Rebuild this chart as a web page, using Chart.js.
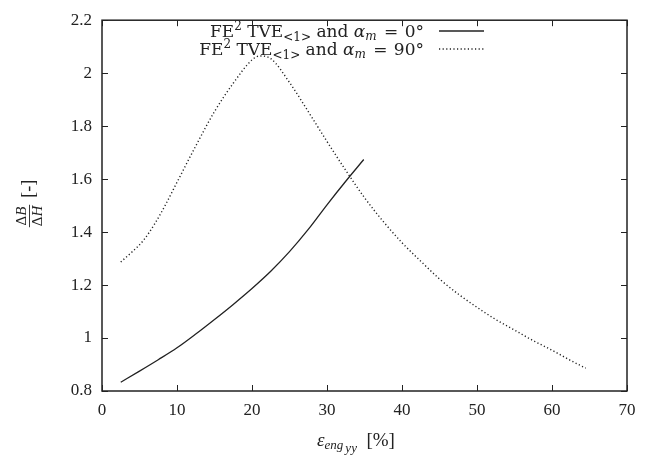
<!DOCTYPE html>
<html>
<head>
<meta charset="utf-8">
<script src="https://cdn.jsdelivr.net/npm/chart.js@4/dist/chart.umd.min.js"></script>
<style>
html,body{margin:0;padding:0;background:#fff;}
#wrap{width:646px;height:457px;}
</style>
</head>
<body>
<div id="wrap"><canvas id="c" width="646" height="457"></canvas></div>
<script>
// ---- data ----
const xSolid = [2.5, 5, 7.5, 10, 12.5, 15, 17.5, 20, 22.5, 25, 27.5, 30, 32.5, 34.9];
const ySolid = [0.833, 0.875, 0.918, 0.963, 1.015, 1.07, 1.127, 1.187, 1.252, 1.326, 1.41, 1.503, 1.592, 1.674];

const xDotted = [2.5, 4, 5.5, 7, 8.5, 10, 12.5, 15, 17.5, 20, 21, 22.5, 25, 27.5, 30, 32.5, 35, 37.5, 40, 42.5, 45, 47.5, 50, 52.5, 55, 57.5, 60, 62.5, 64.5];
const yDotted = [1.287, 1.325, 1.368, 1.43, 1.505, 1.588, 1.725, 1.855, 1.962, 2.05, 2.065, 2.055, 1.965, 1.855, 1.742, 1.633, 1.53, 1.44, 1.36, 1.29, 1.223, 1.166, 1.116, 1.07, 1.03, 0.99, 0.954, 0.915, 0.886];

const xTicks = [0, 10, 20, 30, 40, 50, 60, 70];
const yTicks = [0.8, 1, 1.2, 1.4, 1.6, 1.8, 2, 2.2];
const yTickLabels = ['0.8', '1', '1.2', '1.4', '1.6', '1.8', '2', '2.2'];

const seriesNames = ['0°', '90°'];

const SERIF = '"Liberation Serif", "DejaVu Serif", serif';
const LSERIF = '"DejaVu Serif", "Liberation Serif", serif';
const INK = '#222';

function pts(xs, ys) { return xs.map((x, i) => ({x: x, y: ys[i]})); }

function fontOf(s) { return (s.style || 'normal') + ' ' + s.size + 'px ' + (s.fam || SERIF); }
function richWidth(ctx, segs) {
  let w = 0;
  segs.forEach(s => { ctx.font = fontOf(s); w += ctx.measureText(s.t).width + (s.gap || 0); });
  return w;
}
function drawRich(ctx, segs, x, y) {
  let cx = x;
  segs.forEach(s => {
    ctx.font = fontOf(s);
    ctx.fillText(s.t, cx, y + (s.dy || 0));
    cx += ctx.measureText(s.t).width + (s.gap || 0);
  });
}
function legendSegs(angle) {
  const F = LSERIF;
  return [
    {t: 'FE', size: 17, fam: F}, {t: '2', size: 12, dy: -7, fam: F}, {t: ' TVE', size: 17, fam: F},
    {t: '<1>', size: 12, dy: 4, fam: F}, {t: ' and ', size: 17, fam: F},
    {t: 'α', size: 17, style: 'italic', fam: F}, {t: 'm', size: 12, style: 'italic', dy: 3, fam: F, gap: 2},
    {t: ' = ', size: 17, fam: F, gap: 1}, {t: angle, size: 17, fam: F}
  ];
}

const decor = {
  id: 'decor',
  afterDatasetsDraw(chart) {
    const ctx = chart.ctx;
    const a = chart.chartArea;
    const xs = chart.scales.x, ys = chart.scales.y;
    ctx.save();
    // frame
    ctx.strokeStyle = INK;
    ctx.lineWidth = 1.5;
    ctx.strokeRect(a.left, a.top, a.right - a.left, a.bottom - a.top);
    // inward ticks on all sides
    ctx.lineWidth = 1;
    const L = 6;
    xTicks.forEach(v => {
      const p = Math.round(xs.getPixelForValue(v)) + 0.5;
      ctx.beginPath();
      ctx.moveTo(p, a.bottom); ctx.lineTo(p, a.bottom - L);
      ctx.moveTo(p, a.top); ctx.lineTo(p, a.top + L);
      ctx.stroke();
    });
    yTicks.forEach(v => {
      const p = Math.round(ys.getPixelForValue(v)) + 0.5;
      ctx.beginPath();
      ctx.moveTo(a.left, p); ctx.lineTo(a.left + L, p);
      ctx.moveTo(a.right, p); ctx.lineTo(a.right - L, p);
      ctx.stroke();
    });

    // legend
    ctx.fillStyle = INK;
    ctx.textBaseline = 'alphabetic';
    const textRight = 424;
    const rows = [{y: 37, dash: []}, {y: 55, dash: [1.2, 2.4]}];
    rows.forEach((r, i) => {
      const segs = legendSegs(seriesNames[i]);
      const w = richWidth(ctx, segs);
      drawRich(ctx, segs, textRight - w, r.y);
      ctx.beginPath();
      ctx.setLineDash(r.dash);
      ctx.lineWidth = i === 0 ? 1.3 : 1.4;
      ctx.strokeStyle = INK;
      ctx.moveTo(439, r.y - 6);
      ctx.lineTo(484, r.y - 6);
      ctx.stroke();
      ctx.setLineDash([]);
    });

    // x axis title: ε_{eng yy} [%]
    const xt = [
      {t: 'ε', size: 19, style: 'italic'},
      {t: 'eng', size: 13, style: 'italic', dy: 3, gap: 2},
      {t: 'yy', size: 13, style: 'italic', dy: 6},
      {t: '  [%]', size: 19}
    ];
    const xw = richWidth(ctx, xt);
    drawRich(ctx, xt, 356 - xw / 2, 446);

    // y axis title: ΔB/ΔH [-] rotated
    ctx.translate(29, 216);
    ctx.rotate(-Math.PI / 2);
    const num = [{t: 'Δ', size: 15}, {t: 'B', size: 15, style: 'italic'}];
    const den = [{t: 'Δ', size: 15}, {t: 'H', size: 15, style: 'italic'}];
    const nw = richWidth(ctx, num), dw = richWidth(ctx, den);
    const fw = Math.max(nw, dw) + 2;
    drawRich(ctx, num, -nw / 2, -3);
    drawRich(ctx, den, -dw / 2, 13);
    ctx.beginPath();
    ctx.lineWidth = 0.9;
    ctx.moveTo(-fw / 2, 0.5); ctx.lineTo(fw / 2, 0.5);
    ctx.stroke();
    ctx.font = '18px ' + SERIF;
    ctx.fillText('[-]', fw / 2 + 7, 5);
    ctx.restore();
  }
};

new Chart(document.getElementById('c'), {
  type: 'line',
  data: {
    datasets: [
      {
        label: seriesNames[0],
        data: pts(xSolid, ySolid),
        borderColor: INK,
        borderWidth: 1.3,
        pointRadius: 0,
        fill: false,
        cubicInterpolationMode: 'monotone'
      },
      {
        label: seriesNames[1],
        data: pts(xDotted, yDotted),
        borderColor: INK,
        borderWidth: 1.4,
        borderDash: [1.2, 2.4],
        pointRadius: 0,
        fill: false,
        cubicInterpolationMode: 'monotone'
      }
    ]
  },
  options: {
    responsive: false,
    animation: false,
    devicePixelRatio: 1,
    layout: {padding: {left: 0, right: 19, top: 16, bottom: 0}},
    plugins: {legend: {display: false}, tooltip: {enabled: false}},
    scales: {
      x: {
        type: 'linear', min: 0, max: 70,
        afterBuildTicks: s => { s.ticks = xTicks.map(v => ({value: v})); },
        afterFit: s => { s.height = 66; },
        grid: {display: false, drawTicks: false},
        border: {display: false},
        ticks: {color: INK, padding: 9, maxRotation: 0, font: {family: SERIF, size: 17}}
      },
      y: {
        type: 'linear', min: 0.8, max: 2.2,
        afterBuildTicks: s => { s.ticks = yTicks.map(v => ({value: v})); },
        afterFit: s => { s.width = 102; },
        grid: {display: false, drawTicks: false},
        border: {display: false},
        ticks: {
          color: INK, padding: 10, font: {family: SERIF, size: 17},
          callback: (v) => { const i = yTicks.findIndex(t => Math.abs(t - v) < 1e-6); return i >= 0 ? yTickLabels[i] : ''; }
        }
      }
    }
  },
  plugins: [decor]
});
</script>
</body>
</html>
